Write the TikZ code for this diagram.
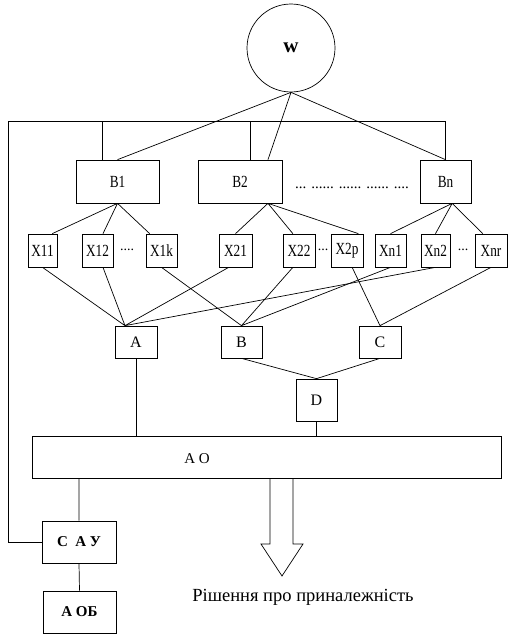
\documentclass[tikz,border=0pt]{standalone}
\usepackage{fontspec}
\setmainfont{Liberation Serif}
\newfontfamily\narrowfont[FakeStretch=0.78]{Liberation Serif}
\begin{document}
\begin{tikzpicture}[x=1pt,y=-1pt,line width=0.7pt,
    blk/.style={draw,rectangle,inner sep=0pt,font=\fontsize{16}{18}\selectfont},
    bbox/.style={blk,minimum height=43pt,font=\fontsize{17}{19}\narrowfont},
    xbox/.style={blk,minimum width=31pt,minimum height=33pt,font=\fontsize{17}{19}\narrowfont},
    abox/.style={blk,minimum width=42pt,minimum height=32pt},
    lbox/.style={blk,minimum width=74pt,minimum height=42pt,font=\fontsize{15}{17}\selectfont\bfseries},
    dots/.style={inner sep=0pt,font=\fontsize{14}{16}\selectfont}]
    \useasboundingbox (0,0) rectangle (523,640);
    % top
    \node[draw,circle,minimum size=88pt,inner sep=0pt,font=\fontsize{21}{23}\selectfont\bfseries] (w) at (291,48) {w};
    \node[bbox,minimum width=83pt] (b1) at (117.5,181.5) {B1};
    \node[bbox,minimum width=84pt] (b2) at (240,181.5) {B2};
    \node[bbox,minimum width=51pt] (bn) at (445.5,181.5) {Bn};
    \node[dots,font=\fontsize{15}{17}\selectfont] (bdots) at (352,188) {... ...... ...... ...... ....};
    % features
    \node[xbox,minimum width=29pt] (x11) at (42.5,250.5) {X11};
    \node[xbox] (x12) at (97.5,250.5) {X12};
    \node[dots] (xdots1) at (127,250) {....};
    \node[xbox] (x1k) at (161.5,250.5) {X1k};
    \node[xbox,minimum width=33pt] (x21) at (235.5,250.5) {X21};
    \node[xbox,minimum width=32pt] (x22) at (299,250.5) {X22};
    \node[dots] (xdots2) at (323,250) {...};
    \node[xbox,minimum width=32pt] (x2p) at (347,250.5) {X2p};
    \node[xbox] (xn1) at (390.5,250.5) {Xn1};
    \node[xbox,minimum width=29pt] (xn2) at (435.5,250.5) {Xn2};
    \node[dots] (xdots3) at (463,250) {...};
    \node[xbox,minimum width=32pt] (xnr) at (491,250.5) {Xnr};
    % classes
    \node[abox] (a) at (136,342) {A};
    \node[abox,minimum width=41pt] (b) at (241.5,342) {B};
    \node[abox] (c) at (380,342) {C};
    \node[abox,minimum width=41pt,minimum height=42pt] (d) at (316.5,400) {D};
    \node[blk,minimum width=469pt,minimum height=42pt] (ao) at (266.5,457) {};
    \node[dots,font=\fontsize{15}{17}\selectfont] (aotext) at (197,459) {А О};
    \node[lbox] (sau) at (79,542) {С\ \ А У};
    \node[lbox,minimum width=73pt] (aob) at (79.5,612) {А ОБ};
    \node[inner sep=0pt,font=\fontsize{18.5}{20}\selectfont] (res) at (303,597) {Рішення про приналежність};
    \coordinate (lt) at (8,121);
    % W to B
    \draw (w.south)--(b1.north) (w.south)--(b2.38) (w.south)--(bn.north);
    % feedback bus
    \draw (sau.west) -| (lt) -- (bn.north |- lt) -- (bn.north);
    \draw (b1.124 |- lt)--(b1.124) (b2.65 |- lt)--(b2.65);
    % B to X
    \draw (b1.south)--(x11.60) (b1.south)--(x12.72) (b1.south)--(x1k.125);
    \draw (b2.-38)--(x21.north) (b2.-38)--(x22.110) (b2.-38)--(x2p.56);
    \draw (bn.-73)--(xn1.north) (bn.-73)--(xn2.north) (bn.-73)--(xnr.116);
    % X to classes
    \draw (x11.south)--(a.124) (x12.-72)--(a.124) (x21.-112)--(a.124) (xn2.south)--(a.124);
    \draw (x1k.south)--(b.north) (x22.-110)--(b.north) (xn1.south)--(b.north);
    \draw (x2p.-73)--(c.north) (xnr.south)--(c.north);
    \draw (b.south)--(d.north) (c.south)--(d.north);
    \draw (a.south)--(a.south |- ao.north) (d.south)--(d.south |- ao.north);
    \draw (ao.south -| sau.north)--(sau.north) (sau.south)--(aob.north);
    % decision arrow
    \draw (270,478)--(270,544)--(261,544)--(282,576)--(303,544)--(293,544)--(293,478);
\end{tikzpicture}
\end{document}
